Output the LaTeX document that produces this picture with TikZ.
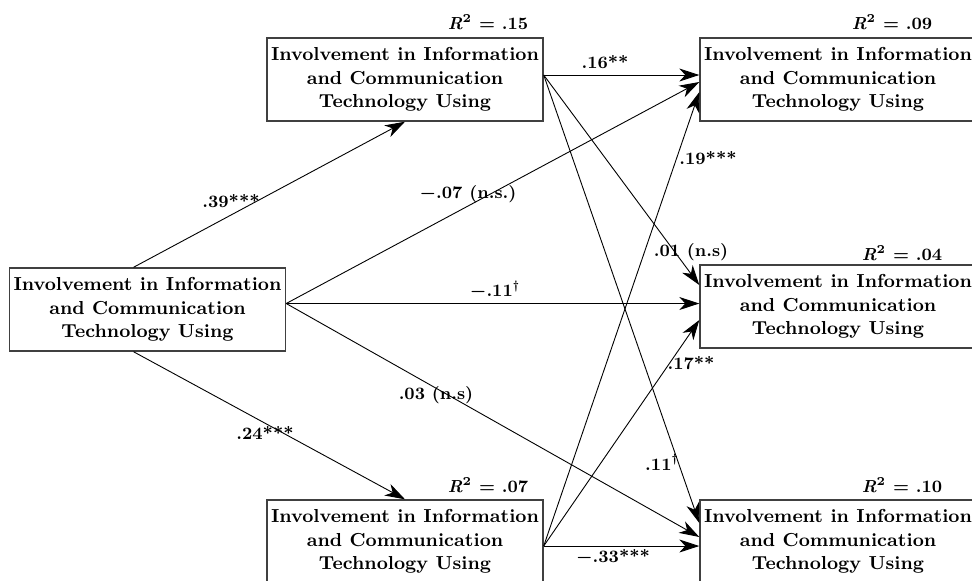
\documentclass[tikz,border=0pt]{standalone}
\usetikzlibrary{arrows.meta}

\begin{document}
\begin{tikzpicture}[x=0.5pt,y=-0.5pt,
  box/.style={draw=black!75,line width=0.7pt,minimum width=138pt,minimum height=41.5pt,
    inner sep=1pt,align=center,font=\bfseries\fontsize{9.4}{11.8}\selectfont},
  arr/.style={line width=0.45pt,-{Stealth[length=10pt,width=6.5pt,inset=3pt]}},
  coef/.style={inner sep=0pt,font=\bfseries\fontsize{8.7}{10}\selectfont}]
%\draw[step=50,gray,very thin] (0,0) grid (972,580); %background grid
\useasboundingbox (0,0) rectangle (972,580);

\node[box] (lft) at (147.5,309.5) {Involvement in Information\\and Communication\\Technology Using};
\node[box] (tm) at (405,79.5) {Involvement in Information\\and Communication\\Technology Using};
\node[box] (bm) at (405,541.5) {Involvement in Information\\and Communication\\Technology Using};
\node[box] (tr) at (838,79.5) {Involvement in Information\\and Communication\\Technology Using};
\node[box] (mr) at (838,306.5) {Involvement in Information\\and Communication\\Technology Using};
\node[box] (br) at (838,541.5) {Involvement in Information\\and Communication\\Technology Using};

\node[coef] (r15) at (488,22) {\textit{R}\textsuperscript{2} = .15};
\node[coef] (r09) at (892,22) {\textit{R}\textsuperscript{2} = .09};
\node[coef] (r04) at (902,253) {\textit{R}\textsuperscript{2} = .04};
\node[coef] (r07) at (488,485) {\textit{R}\textsuperscript{2} = .07};
\node[coef] (r10) at (902,485) {\textit{R}\textsuperscript{2} = .10};

\draw[arr] ([xshift=-7pt]lft.north) -- (tm.south);
\draw[arr] ([xshift=-7pt]lft.south) -- (bm.north);
\draw[arr] ([yshift=3pt]lft.east) -- ([yshift=-1.25pt]tr.west);
\draw[arr] ([yshift=3pt]lft.east) -- ([yshift=1.5pt]mr.west);
\draw[arr] ([yshift=3pt]lft.east) -- ([yshift=2.25pt]br.west);

\draw[arr] ([yshift=2.25pt]tm.east) -- ([yshift=2.25pt]tr.west);
\draw[arr] ([yshift=2.25pt]tm.east) -- ([yshift=10.75pt]mr.west);
\draw[arr] ([yshift=2.25pt]tm.east) -- ([yshift=9.25pt]br.west);

\draw[arr] ([yshift=-2.25pt]bm.east) -- ([yshift=-6.25pt]tr.west);
\draw[arr] ([yshift=-2.25pt]bm.east) -- ([yshift=-6.75pt]mr.west);
\draw[arr] ([yshift=-2.25pt]bm.east) -- ([yshift=-2.25pt]br.west);

\node[coef] (c39) at (231,201) {.39***};
\node[coef] (c24) at (265,433) {.24***};
\node[coef] (c07) at (468,194) {{\boldmath$-$}.07 (n.s.)};
\node[coef] (c11a) at (495,290) {{\boldmath$-$}.11\textsuperscript{\dag}};
\node[coef] (c03) at (436,395) {.03 (n.s)};
\node[coef] (c16) at (605,62) {.16**};
\node[coef] (c01) at (691,252) {.01 (n.s)};
\node[coef] (c11b) at (662,462) {.11\textsuperscript{\dag}};
\node[coef] (c19) at (708,158) {.19***};
\node[coef] (c17) at (691,363) {.17**};
\node[coef] (c33) at (613,557) {{\boldmath$-$}.33***};
\end{tikzpicture}
\end{document}
